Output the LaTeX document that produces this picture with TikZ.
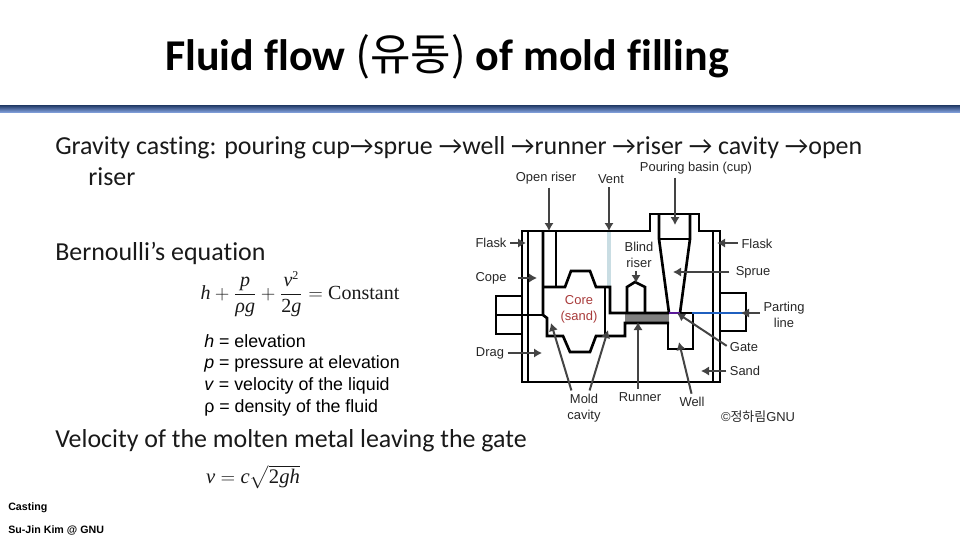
\documentclass[tikz,border=0pt]{standalone}
\usepackage{fontspec}
\usepackage{amsmath}
\setmainfont[Ligatures=NoCommon]{Carlito}
\newfontfamily\arl{Liberation Sans}
\newfontfamily\tms{Liberation Serif}
\newfontfamily\cjk{Noto Sans CJK KR}
\usetikzlibrary{arrows.meta}
\definecolor{arrgray}{HTML}{444444}
\definecolor{corered}{HTML}{A83A3A}
\definecolor{ptblue}{HTML}{1F5FBF}
\definecolor{gatepurple}{HTML}{5A189A}
\definecolor{ventblue}{HTML}{C9DDE3}
\definecolor{runnergray}{HTML}{808080}
\definecolor{bartop}{HTML}{1F3864}
\definecolor{barbot}{HTML}{7D9BD6}
\newcommand{\ti}[1]{\hbox{\tms\itshape #1}}
\newcommand{\tr}[1]{\hbox{\tms #1}}
\newcommand{\tsup}[1]{\hbox{\tms\fontsize{9}{9}\selectfont #1}}
\tikzset{
  x=0.75pt,y=-0.75pt,
  titletext/.style={anchor=base west,inner sep=0,font=\fontsize{33}{38}\selectfont\bfseries},
  bodytext/.style={anchor=base west,inner sep=0,font=\fontsize{19.45}{23}\selectfont,text=black!90},
  listtext/.style={anchor=base west,inner sep=0,font=\arl\fontsize{13.35}{16.2}\selectfont,align=left},
  foottext/.style={anchor=base west,inner sep=0,font=\arl\fontsize{8}{10}\selectfont\bfseries},
  lab/.style={inner sep=1pt,font=\arl\fontsize{9.7}{12}\selectfont,align=center,text=black!85},
  eqn/.style={inner sep=0,text=black!90},
  wall/.style={line width=2pt,draw=black,line join=miter},
  arr/.style={line width=1.5pt,draw=arrgray,shorten <=1.5pt,-{Latex[length=6pt,width=7pt]}},
}
\begin{document}
\begin{tikzpicture}
\useasboundingbox (0,0) rectangle (960,540);
% header
\node[titletext] (title) at (165,70) {Fluid flow {\mdseries\cjk (유동)} of mold filling};
\fill[top color=bartop,bottom color=barbot] (0,105) rectangle (960,112);
% body
\node[bodytext] (gravity) at (55,154) {Gravity casting: pouring cup→sprue →well →runner →riser → cavity →open};
\node[bodytext] (gravity2) at (88,185) {riser};
\node[bodytext] (bern) at (55,260) {Bernoulli’s equation};
\node[eqn] (eq1) at (300,294) {\fontsize{15}{16}\selectfont$\ti{h}+\dfrac{\ti{p}}{\ti{ρg}}+\dfrac{\ti{v}^{\tsup{2}}}{\tr{2}\ti{g}}=\tr{Constant}$};
\node[listtext] (list) at (204,412) {\textit{h} = elevation\\\textit{p} = pressure at elevation\\\textit{v} = velocity of the liquid\\ρ = density of the fluid};
\node[bodytext] (veloc) at (55,447) {Velocity of the molten metal leaving the gate};
\node[eqn] (eq2) at (253,477) {\fontsize{15.5}{16}\selectfont$\ti{v}=\ti{c}\sqrt{\tr{2}\ti{gh}}$};
\node[foottext] (casting) at (8,510) {Casting};
\node[foottext] (author) at (8,533) {Su-Jin Kim @ GNU};
% casting drawing
\fill[ventblue] (606.5,231) rectangle (610.5,287);
\fill[runnergray] (625,314) rectangle (669,323);
% walls
\draw[wall] (650,231) -- (522,231) -- (522,382) -- (720,382) -- (720,231) -- (699,231) -- (699,214) -- (650,214) -- cycle;
\draw[wall] (528,231) -- (528,382);
\draw[wall] (713,231) -- (713,382);
\draw[wall] (659,214) -- (659,239) -- (669,313);
\draw[wall] (690,214) -- (690,239) -- (680,313);
\draw[wall] (659,239) -- (690,239);
\draw[wall] (522,296) -- (496,296) -- (496,334) -- (522,334);
\draw[wall] (496,315) -- (543,315);
\draw[wall] (720,293) -- (746,293) -- (746,331) -- (720,331);
% open riser, core, vent
\draw[wall] (543,231) -- (543,315) -- (547,318) -- (547,336) -- (563,336) -- (570,352) -- (590,352) -- (596,336) -- (625,336) -- (625,323) -- (669,323);
\draw[wall] (556,231) -- (556,287);
\draw[wall] (543,287) -- (565,287) -- (571,271) -- (590,271) -- (596,287) -- (610,287) -- (610,313) -- (669,313);
\draw[wall] (605,287) -- (605,336);
\draw[wall] (627,313) -- (627,287) -- (635,282) -- (645,287) -- (645,313);
\draw[wall] (668,323) -- (668,349) -- (693,349) -- (693,313) -- (680,313);
\draw[line width=2pt,draw=ptblue] (692,313) -- (746,313);
\draw[line width=2pt,draw=gatepurple] (669,313) -- (680,313);
% labels
\node[lab] (lOpen) at (546,178) {Open riser};
\node[lab] (lVent) at (611,179) {Vent};
\node[lab] (lPour) at (696,168) {Pouring basin (cup)};
\node[lab] (lFlaskL) at (491,243) {Flask};
\node[lab] (lFlaskR) at (757,244) {Flask};
\node[lab] (lBlind) at (639,254.5) {Blind\\riser};
\node[lab] (lCope) at (491,278) {Cope};
\node[lab] (lSprue) at (753,272) {Sprue};
\node[lab,text=corered] (lCore) at (579,309) {Core\\(sand)};
\node[lab] (lPart) at (784,314.5) {Parting\\line};
\node[lab] (lGate) at (744,347) {Gate};
\node[lab] (lSand) at (745,371) {Sand};
\node[lab] (lDrag) at (490,353) {Drag};
\node[lab] (lMold) at (584,408) {Mold\\cavity};
\node[lab] (lRunner) at (640,397) {Runner};
\node[lab] (lWell) at (692,402) {Well};
\node[lab] (lCopy) at (758,417) {©{\cjk 정하림}GNU};
% arrow tips
\coordinate (tOpen) at (549,231);
\coordinate (tVent) at (609,231);
\coordinate (tPour) at (675,225);
\coordinate (tFlaskL) at (526,243);
\coordinate (tFlaskR) at (717,243);
\coordinate (tBlind) at (636,283);
\coordinate (tCope) at (537,278);
\coordinate (tSprue) at (673,272);
\coordinate (tPart) at (741,313);
\coordinate (tGate) at (677,313);
\coordinate (tSand) at (701,371);
\coordinate (tDrag) at (542,353);
\coordinate (tWell) at (679,342);
\coordinate (tRunner) at (638,322);
\coordinate (tMoldA) at (551,323);
\coordinate (tMoldB) at (608,330);
% arrows
\draw[arr] (lOpen.south -| tOpen) -- (tOpen);
\draw[arr] (lVent.south -| tVent) -- (tVent);
\draw[arr] (lPour.south -| tPour) -- (tPour);
\draw[arr] (lFlaskL.east |- tFlaskL) -- (tFlaskL);
\draw[arr] (lFlaskR.west |- tFlaskR) -- (tFlaskR);
\draw[arr] (lBlind.south -| tBlind) -- (tBlind);
\draw[arr] ([xshift=6pt]lCope.east |- tCope) -- (tCope);
\draw[arr] ([xshift=-2pt]lSprue.west |- tSprue) -- (tSprue);
\draw[arr] (lPart.west |- tPart) -- (tPart);
\draw[arr] (lGate.west) -- (tGate);
\draw[arr] (lSand.west |- tSand) -- (tSand);
\draw[arr] (lDrag.east |- tDrag) -- (tDrag);
\draw[arr] (lWell.north) -- (tWell);
\draw[arr] (lRunner.north -| tRunner) -- (tRunner);
\draw[arr] ([xshift=-9pt]lMold.north) -- (tMoldA);
\draw[arr] ([xshift=3.75pt]lMold.north) -- (tMoldB);
\end{tikzpicture}
\end{document}
